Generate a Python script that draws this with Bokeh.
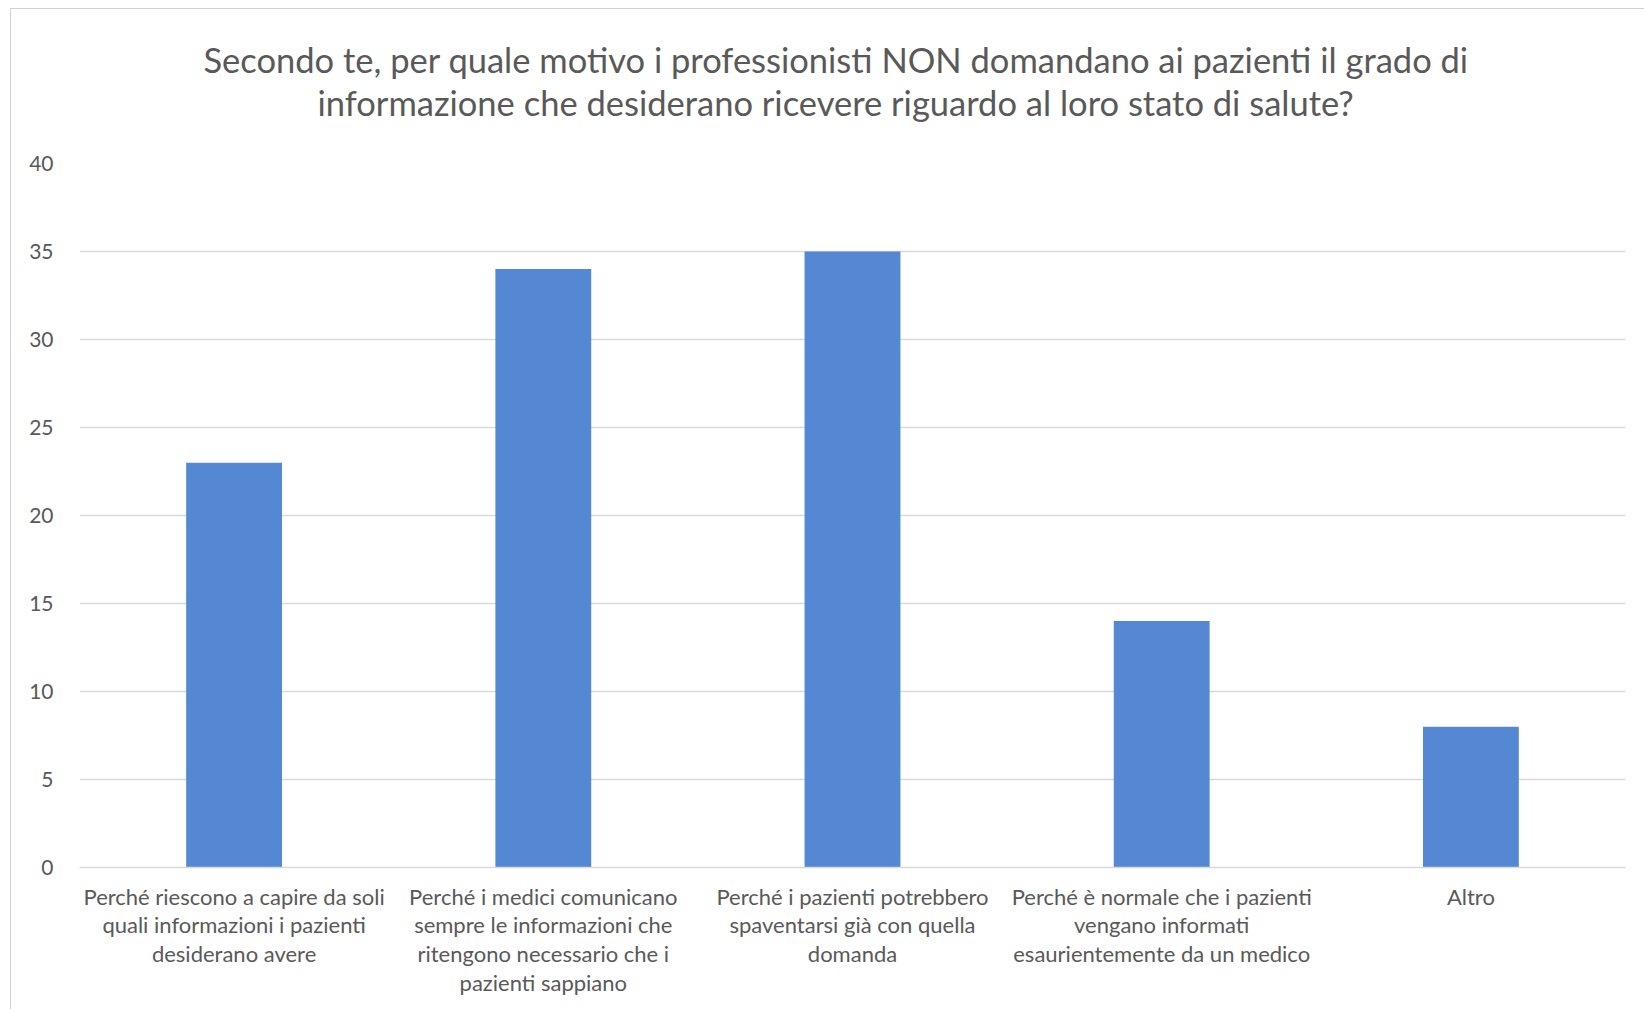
from bokeh.plotting import figure
from bokeh.models import FactorRange, Range1d, SingleIntervalTicker, Title, ColumnDataSource
from bokeh.embed import file_html
from bokeh.resources import INLINE

categories = [
    "Perché riescono a capire da soli\nquali informazioni i pazienti\ndesiderano avere",
    "Perché i medici comunicano\nsempre le informazioni che\nritengono necessario che i\npazienti sappiano",
    "Perché i pazienti potrebbero\nspaventarsi già con quella\ndomanda",
    "Perché è normale che i pazienti\nvengano informati\nesaurientemente da un medico",
    "Altro",
]
values = [23, 34, 35, 14, 8]
title_lines = [
    "Secondo te, per quale motivo i professionisti NON domandano ai pazienti il grado di",
    "informazione che desiderano ricevere riguardo al loro stato di salute?",
]
y_max = 40
y_step = 5

TEXT = "#595959"
GRID = "#D9D9D9"
FONT = "Lato"

p = figure(
    x_range=FactorRange(*categories),
    y_range=Range1d(0, y_max),
    width=1634, height=1001,
    output_backend="svg", toolbar_location=None,
    title_location=None,
    min_border_left=68, min_border_right=20,
    min_border_top=154, min_border_bottom=143,
    outline_line_color=None,
)
p.margin = (8, 0, 0, 10)
p.styles = {"border-left": "1px solid #d0d0d0", "border-top": "1px solid #d0d0d0"}

src = ColumnDataSource(dict(cat=categories, val=values))
p.vbar(x="cat", top="val", width=0.31, source=src, fill_color="#5588D2", line_color=None)

p.xgrid.grid_line_color = None
p.ygrid.grid_line_color = GRID
p.ygrid.grid_line_width = 1.3
p.yaxis.ticker = SingleIntervalTicker(interval=y_step)
p.yaxis.axis_line_color = None
p.yaxis.major_tick_line_color = None
p.yaxis.minor_tick_line_color = None
p.yaxis.major_tick_out = 0
p.yaxis.major_label_text_font = FONT
p.yaxis.major_label_text_font_size = "21px"
p.yaxis.major_label_text_color = TEXT
p.yaxis.major_label_standoff = 22

ax = p.xaxis[0]
ax.axis_line_color = GRID
ax.axis_line_width = 1.3
ax.major_tick_line_color = None
ax.minor_tick_line_color = None
ax.major_tick_out = 0
ax.major_tick_in = 0
ax.major_label_text_font = FONT
ax.major_label_text_font_size = "22px"
ax.major_label_text_color = TEXT
ax.major_label_text_line_height = 1.07
ax.major_label_standoff = 15

# spacer between plot frame and title block
p.add_layout(Title(text=" ", text_font_size="1px", standoff=38), "above")
# title: one Title per line, added innermost first
offsets = [124, 238]
for line, off in reversed(list(zip(title_lines, offsets))):
    p.add_layout(Title(
        text=line, align="left", offset=off, text_font=FONT, text_font_size="34.5px",
        text_font_style="normal", text_color=TEXT, standoff=0,
    ), "above")

open("out.html", "w").write(file_html(p, INLINE))
